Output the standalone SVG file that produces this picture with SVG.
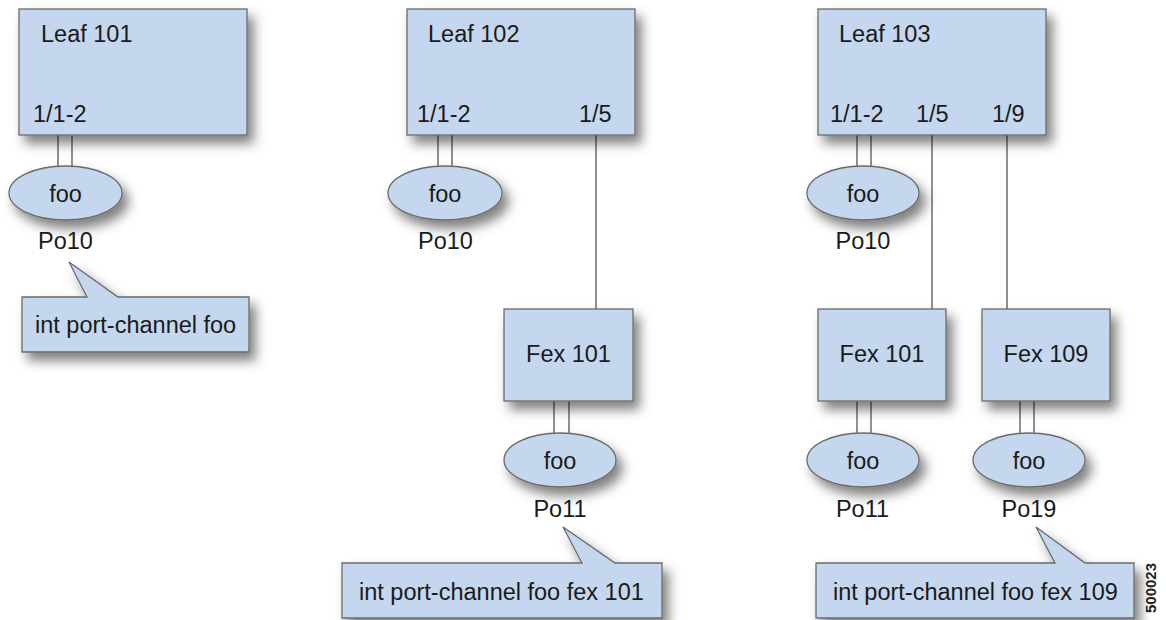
<svg xmlns="http://www.w3.org/2000/svg" width="1166" height="620" viewBox="0 0 1166 620">
<defs>
<filter id="sh" x="-20%" y="-20%" width="150%" height="160%">
<feDropShadow dx="6" dy="8" stdDeviation="6" flood-color="#000" flood-opacity="0.5"/>
</filter>
<style>
.box{fill:#c5d7ee;stroke:#6b6b6b;stroke-width:1.3;filter:url(#sh)}
.ln{stroke:#555;stroke-width:1.3;fill:none}
.t{font-family:"Liberation Sans",Arial,sans-serif;font-size:23.5px;fill:#1a1a1a}
.c{text-anchor:middle}
.id{font-family:"Liberation Sans",Arial,sans-serif;font-size:15px;font-weight:bold;fill:#222}
</style>
</defs>
<rect width="1166" height="620" fill="#fff"/>
<g id="connectors">
<line class="ln" x1="58" y1="135" x2="58" y2="167"/>
<line class="ln" x1="72" y1="135" x2="72" y2="167"/>
<line class="ln" x1="438" y1="135" x2="438" y2="167"/>
<line class="ln" x1="452" y1="135" x2="452" y2="167"/>
<line class="ln" x1="857" y1="135" x2="857" y2="167"/>
<line class="ln" x1="871" y1="135" x2="871" y2="167"/>
<line class="ln" x1="596" y1="135" x2="596" y2="309"/>
<line class="ln" x1="932" y1="135" x2="932" y2="309"/>
<line class="ln" x1="1007" y1="135" x2="1007" y2="309"/>
<line class="ln" x1="554" y1="401" x2="554" y2="434"/>
<line class="ln" x1="569" y1="401" x2="569" y2="434"/>
<line class="ln" x1="857" y1="401" x2="857" y2="434"/>
<line class="ln" x1="871" y1="401" x2="871" y2="434"/>
<line class="ln" x1="1020" y1="401" x2="1020" y2="434"/>
<line class="ln" x1="1034" y1="401" x2="1034" y2="434"/>
</g>
<g id="leaf101">
<rect class="box" x="19" y="9" width="228" height="126"/>
<text class="t" x="41" y="42">Leaf 101</text>
<text class="t" x="33" y="122">1/1-2</text>
</g>
<g id="leaf102">
<rect class="box" x="407" y="9" width="228" height="126"/>
<text class="t" x="428" y="42">Leaf 102</text>
<text class="t" x="417" y="122">1/1-2</text>
<text class="t" x="579" y="122">1/5</text>
</g>
<g id="leaf103">
<rect class="box" x="818" y="9" width="228" height="126"/>
<text class="t" x="839" y="42">Leaf 103</text>
<text class="t" x="830" y="122">1/1-2</text>
<text class="t" x="916" y="122">1/5</text>
<text class="t" x="992" y="122">1/9</text>
</g>
<g id="po10-a">
<ellipse class="box" cx="65.5" cy="193" rx="56.5" ry="27"/>
<text class="t c" x="65.5" y="202">foo</text>
<text class="t c" x="65.5" y="249">Po10</text>
</g>
<g id="po10-b">
<ellipse class="box" cx="445" cy="193" rx="57" ry="27"/>
<text class="t c" x="445" y="202">foo</text>
<text class="t c" x="445.5" y="249">Po10</text>
</g>
<g id="po10-c">
<ellipse class="box" cx="863" cy="193" rx="56" ry="27"/>
<text class="t c" x="863" y="202">foo</text>
<text class="t c" x="863" y="249">Po10</text>
</g>
<g id="fex101-b">
<rect class="box" x="504" y="309" width="129" height="92"/>
<text class="t c" x="568.5" y="362">Fex 101</text>
</g>
<g id="fex101-c">
<rect class="box" x="818" y="309" width="128" height="92"/>
<text class="t c" x="882" y="362">Fex 101</text>
</g>
<g id="fex109">
<rect class="box" x="982" y="309" width="128" height="92"/>
<text class="t c" x="1046" y="362">Fex 109</text>
</g>
<g id="po11-b">
<ellipse class="box" cx="560" cy="460" rx="56" ry="27"/>
<text class="t c" x="560" y="469">foo</text>
<text class="t c" x="560" y="517">Po11</text>
</g>
<g id="po11-c">
<ellipse class="box" cx="863" cy="460" rx="56" ry="27"/>
<text class="t c" x="863" y="469">foo</text>
<text class="t c" x="862.5" y="517">Po11</text>
</g>
<g id="po19">
<ellipse class="box" cx="1029" cy="460" rx="56" ry="27"/>
<text class="t c" x="1029" y="469">foo</text>
<text class="t c" x="1029" y="517">Po19</text>
</g>
<g id="callout1">
<path class="box" d="M22,297 H87 L69,262 L118,297 H249 V352 H22 Z"/>
<text class="t" x="35" y="333">int port-channel foo</text>
</g>
<g id="callout2">
<path class="box" d="M342,563 H582 L563,527 L615,563 H662 V618 H342 Z"/>
<text class="t" x="359" y="600">int port-channel foo fex 101</text>
</g>
<g id="callout3">
<path class="box" d="M816,563 H1055 L1036,527 L1085,563 H1134 V618 H816 Z"/>
<text class="t" x="833" y="600">int port-channel foo fex 109</text>
</g>
<text class="id" transform="translate(1156,588) rotate(-90)" text-anchor="middle">500023</text>
</svg>
